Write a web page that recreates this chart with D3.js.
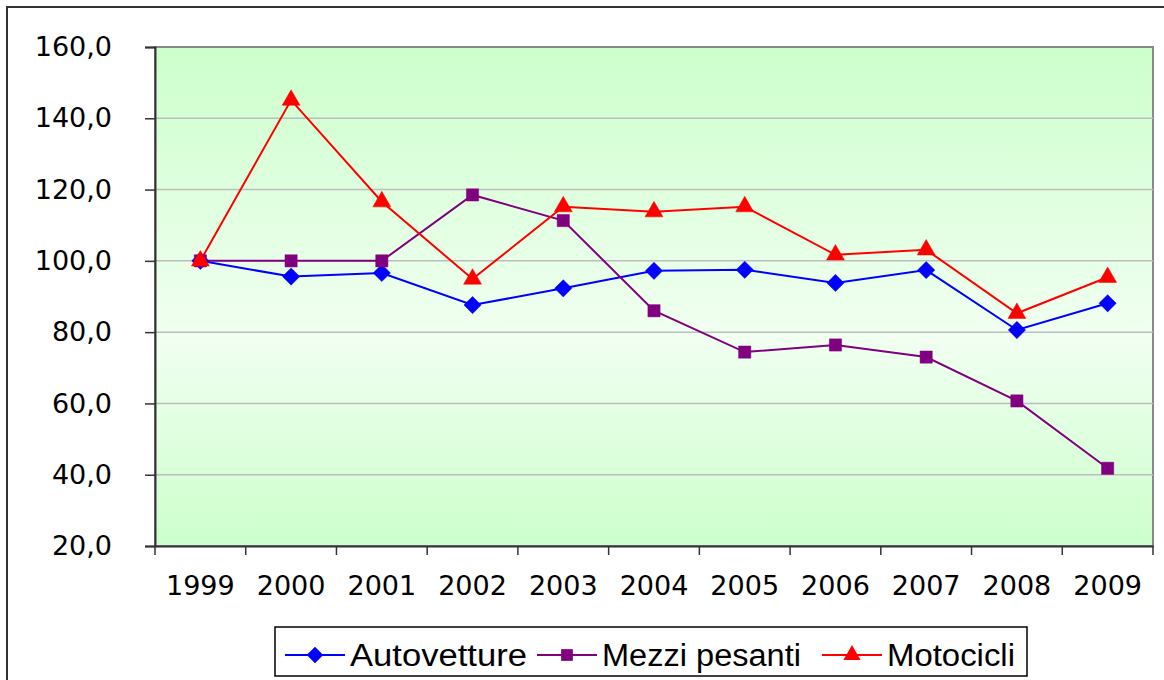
<!DOCTYPE html>
<html lang="it">
<head>
<meta charset="UTF-8">
<title>Indici 1999-2009</title>
<script src="https://d3js.org/d3.v7.min.js"></script>
<style>
  body { margin: 0; background: #fff; }
  svg { display: block; }
  .tick text { font-family: "DejaVu Sans", Verdana, sans-serif; font-size: 27px; fill: #000; }
  .legend text { font-family: "Liberation Sans", Arial, sans-serif; font-size: 31px; }
</style>
</head>
<body>
<script>
// dati
const anni = ["1999","2000","2001","2002","2003","2004","2005","2006","2007","2008","2009"];
const autovetture = [100.0, 95.6, 96.6, 87.6, 92.3, 97.2, 97.5, 93.8, 97.4, 80.6, 88.1];
const mezziPesanti = [100.0, 100.0, 100.0, 118.5, 111.3, 86.0, 74.4, 76.4, 73.0, 60.7, 41.8];
const motocicli = [100.0, 145.1, 116.6, 94.9, 115.2, 113.8, 115.2, 101.7, 103.1, 85.3, 95.4];
const yTicks = [20, 40, 60, 80, 100, 120, 140, 160];

const serie = [
  { nome: "Autovetture", valori: autovetture, colore: "#0000ff", simbolo: d3.symbolDiamond2 },
  { nome: "Mezzi pesanti", valori: mezziPesanti, colore: "#800080", simbolo: d3.symbolSquare2 },
  { nome: "Motocicli", valori: motocicli, colore: "#ff0000", simbolo: d3.symbolTriangle2 }
];

const W = 1164, H = 680;
const margin = { top: 47, right: 11, bottom: 134, left: 155 };
const width = W - margin.left - margin.right,
      height = H - margin.top - margin.bottom;

const svg = d3.select("body").append("svg").attr("width", W).attr("height", H);

// cornice esterna
svg.append("rect")
  .attr("x", 7).attr("y", 7).attr("width", W + 20).attr("height", H + 20)
  .attr("fill", "none").attr("stroke", "#333").attr("stroke-width", 2);

const defs = svg.append("defs");
const grad = defs.append("linearGradient").attr("id", "sfondo")
  .attr("x1", 0).attr("y1", 0).attr("x2", 0).attr("y2", 1);
grad.append("stop").attr("offset", "0%").attr("stop-color", "#ccffcc");
grad.append("stop").attr("offset", "58%").attr("stop-color", "#f1fff1");
grad.append("stop").attr("offset", "100%").attr("stop-color", "#ccffcc");

const g = svg.append("g").attr("transform", `translate(${margin.left},${margin.top})`);

const x = d3.scaleBand().domain(anni).range([0, width]);
const y = d3.scaleLinear().domain([20, 160]).range([height, 0]);

const it = d3.formatLocale({ decimal: ",", thousands: ".", grouping: [3], currency: ["€", ""] });
const fmt = it.format(".1f");

g.append("rect").attr("width", width).attr("height", height)
  .attr("fill", "url(#sfondo)").attr("stroke", "#888").attr("stroke-width", 2);

// griglia
g.append("g").selectAll("line").data(yTicks.slice(1, -1)).join("line")
  .attr("x1", 0).attr("x2", width)
  .attr("y1", d => y(d)).attr("y2", d => y(d))
  .attr("stroke", "#bdbdbd").attr("stroke-width", 1.5);

// assi
const yAxis = g.append("g")
  .call(d3.axisLeft(y).tickValues(yTicks).tickFormat(fmt).tickSize(10).tickPadding(33));
yAxis.select(".domain").attr("stroke", "#333").attr("stroke-width", 2);
yAxis.selectAll(".tick line").attr("stroke", "#333").attr("stroke-width", 1.5);

const xAxis = g.append("g").attr("transform", `translate(0,${height})`)
  .call(d3.axisBottom(x).tickSize(0).tickPadding(30));
xAxis.select(".domain").attr("stroke", "#333").attr("stroke-width", 2);
xAxis.selectAll(".tick text").attr("dy", "0.71em");
g.append("g").attr("transform", `translate(0,${height})`)
  .selectAll("line").data(anni.concat(["fine"])).join("line")
  .attr("x1", (d, i) => i * x.step()).attr("x2", (d, i) => i * x.step())
  .attr("y1", 0).attr("y2", 9)
  .attr("stroke", "#333").attr("stroke-width", 1.5);

// linee e simboli
const linea = d3.line().x((d, i) => x(anni[i]) + x.bandwidth() / 2).y(d => y(d));
serie.forEach(s => {
  g.append("path").datum(s.valori)
    .attr("fill", "none").attr("stroke", s.colore).attr("stroke-width", 2)
    .attr("d", linea);
});
serie.forEach(s => {
  g.append("g").selectAll("path").data(s.valori).join("path")
    .attr("transform", (d, i) => `translate(${x(anni[i]) + x.bandwidth() / 2},${y(d)})`)
    .attr("d", d3.symbol().type(s.simbolo).size(s.simbolo === d3.symbolTriangle2 ? 230 : 190))
    .attr("fill", s.colore)
    .attr("stroke", s.colore).attr("stroke-width", 0.5);
});

// legenda
const leg = svg.append("g").attr("class", "legend").attr("transform", "translate(275,627)");
leg.append("rect").attr("width", 752).attr("height", 49)
  .attr("fill", "#fff").attr("stroke", "#000").attr("stroke-width", 1.5);
const posLeg = [10, 262, 547];
const largTesto = [177, 199, 128];
serie.forEach((s, i) => {
  const gg = leg.append("g").attr("transform", `translate(${posLeg[i]},28)`);
  gg.append("line").attr("x1", 0).attr("x2", 60).attr("stroke", s.colore).attr("stroke-width", 2);
  gg.append("path").attr("transform", "translate(30,0)")
    .attr("d", d3.symbol().type(s.simbolo).size(s.simbolo === d3.symbolTriangle2 ? 210 : 175))
    .attr("fill", s.colore);
  gg.append("text").attr("x", 65).attr("y", 11)
    .attr("textLength", largTesto[i]).attr("lengthAdjust", "spacingAndGlyphs")
    .text(s.nome);
});
</script>
</body>
</html>
